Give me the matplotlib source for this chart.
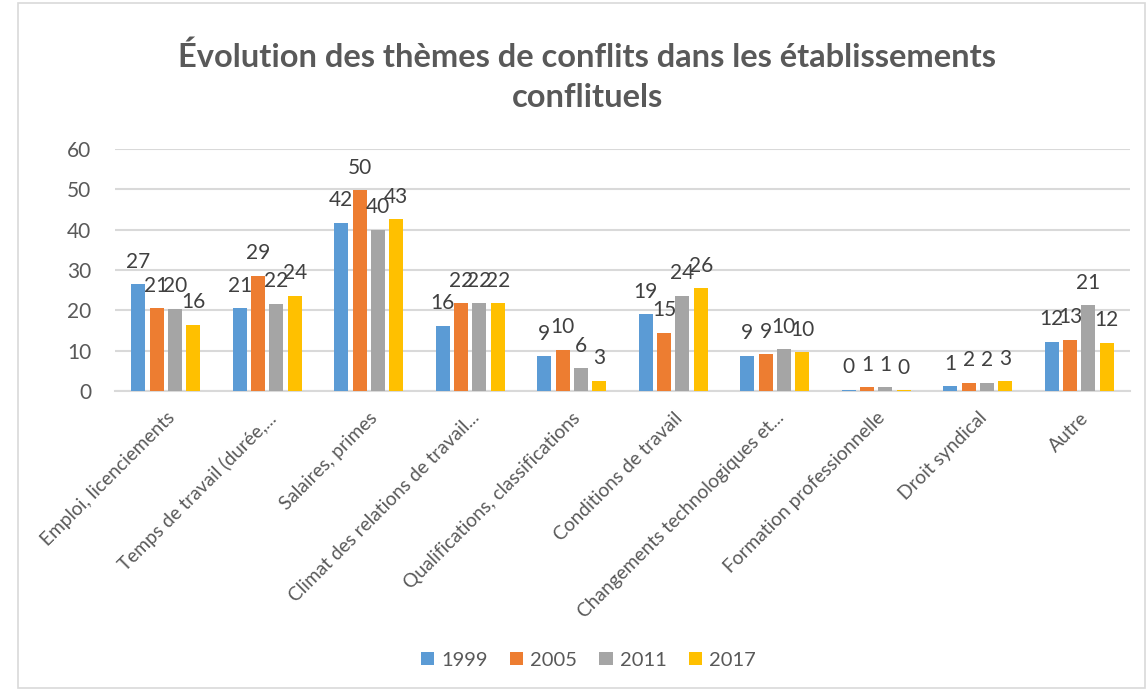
import matplotlib
matplotlib.use("Agg")
import matplotlib.pyplot as plt
from matplotlib.patches import Rectangle
import numpy as np

categories = ["Emploi, licenciements", "Temps de travail (durée,...", "Salaires, primes",
              "Climat des relations de travail...", "Qualifications, classifications",
              "Conditions de travail", "Changements technologiques et...",
              "Formation professionnelle", "Droit syndical", "Autre"]
years = ["1999", "2005", "2011", "2017"]
v1999 = [26.5, 20.5, 41.7, 16.2, 8.6, 19.0, 8.8, 0.3, 1.2, 12.2]
v2005 = [20.5, 28.6, 49.8, 21.8, 10.2, 14.5, 9.1, 0.9, 2.1, 12.7]
v2011 = [20.4, 21.6, 40.0, 21.7, 5.6, 23.6, 10.3, 0.9, 2.1, 21.3]
v2017 = [16.4, 23.6, 42.6, 21.8, 2.6, 25.5, 9.6, 0.2, 2.4, 12.0]
labels1999 = ["27", "21", "42", "16", "9", "19", "9", "0", "1", "12"]
labels2005 = ["21", "29", "50", "22", "10", "15", "9", "1", "2", "13"]
labels2011 = ["20", "22", "40", "22", "6", "24", "10", "1", "2", "21"]
labels2017 = ["16", "24", "43", "22", "3", "26", "10", "0", "3", "12"]
colors = ["#5B9BD5", "#ED7D31", "#A5A5A5", "#FFC000"]

plt.rcParams['font.family'] = ['Lato', 'DejaVu Sans']
fig = plt.figure(figsize=(11.47, 6.91), dpi=100)
fig.patches.append(Rectangle((18/1147, 3/691), 1 - 20/1147, 1 - 6/691, transform=fig.transFigure,
                             fill=False, edgecolor="#D9D9D9", linewidth=1.2))
ax = fig.add_axes([115/1147, 1 - 391/691, 1015/1147, 242/691])

x = np.arange(len(categories))
series = [v1999, v2005, v2011, v2017]
labs = [labels1999, labels2005, labels2011, labels2017]
pitch = 0.18
width = 0.14
for i, (vals, lab, c, yr) in enumerate(zip(series, labs, colors, years)):
    pos = x + (i - 1.5) * pitch
    bars = ax.bar(pos, vals, width=width, color=c, label=yr, zorder=3)
    for b, t in zip(bars, lab):
        ax.annotate(t, (b.get_x() + b.get_width() / 2, b.get_height()), xytext=(0, 9),
                    textcoords="offset points", ha="center", va="bottom",
                    fontsize=15, color="#404040", zorder=4)

ax.set_xlim(-0.5, len(categories) - 0.5)
ax.set_ylim(0, 60)
ax.set_yticks(range(0, 61, 10))
ax.grid(axis="y", color="#D9D9D9", linewidth=1.5, zorder=0)
for s in ["top", "right", "left"]:
    ax.spines[s].set_visible(False)
ax.spines["bottom"].set_color("#D9D9D9")
ax.spines["bottom"].set_linewidth(1.5)
ax.tick_params(axis="both", length=0, colors="#595959")
ax.tick_params(axis="y", labelsize=15, pad=17)
ax.set_xticks(x)
ax.set_xticklabels(categories, rotation=45, ha="right", rotation_mode="anchor",
                   fontsize=13.8, color="#595959")
ax.tick_params(axis="x", pad=13)

fig.text(0.512, 1 - 77/691, "Évolution des thèmes de conflits dans les établissements\nconflituels",
         ha="center", va="center", fontsize=23.5, fontweight="bold", color="#595959",
         linespacing=1.45)

leg = fig.legend(loc="center", bbox_to_anchor=(0.513, 1 - 660/691), ncol=4, frameon=False,
                 fontsize=14.5, handlelength=0.65, handleheight=0.65, columnspacing=1.1,
                 handletextpad=0.35)
for t in leg.get_texts():
    t.set_color("#595959")

fig.savefig("out.png", dpi=100)
